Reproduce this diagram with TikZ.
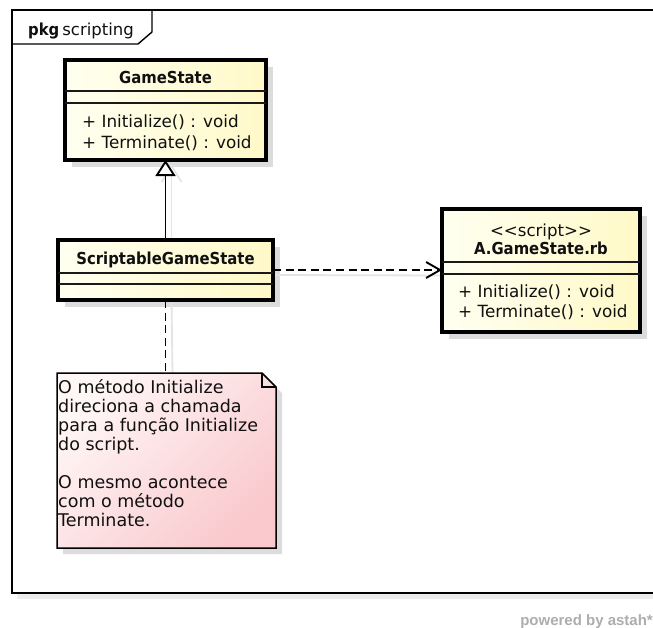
\documentclass[tikz,border=0pt]{standalone}
\usepackage{fontspec}
\setmainfont{DejaVu Sans}
\newfontfamily\namefont{DejaVu Sans}[FakeStretch=0.9]
\newfontfamily\logofont{Liberation Sans}
\usetikzlibrary{arrows.meta,calc}
\pgfdeclarelayer{background}
\pgfsetlayers{background,main}

\definecolor{classleft}{HTML}{FFFFF0}
\definecolor{classright}{HTML}{FFF9C8}
\definecolor{noteleft}{HTML}{FFF6F6}
\definecolor{noteright}{HTML}{F9C9CD}
\definecolor{shadowgray}{HTML}{DCDCDC}
\definecolor{lineshadow}{HTML}{E4E4E4}
\definecolor{frameshadow}{HTML}{EDEDED}
\definecolor{logogray}{HTML}{ADADAD}
\definecolor{ink}{HTML}{101010}

\begin{document}
\begin{tikzpicture}[x=1pt,y=-1pt,
  frame/.style={draw=black, line width=1.4pt},
  classbox/.style={draw=black, line width=3.2pt, left color=classleft, right color=classright,
    inner sep=0pt, outer sep=0pt, anchor=north west},
  compart/.style={draw=black!90, line width=1.4pt},
  boxshadow/.style={fill=shadowgray, draw=none},
  connshadow/.style={draw=lineshadow, line width=1.8pt},
  classname/.style={font=\namefont\bfseries\fontsize{16.5}{20}\selectfont, inner sep=0pt, text=ink, anchor=base},
  stereo/.style={font=\fontsize{16.6}{20}\selectfont, inner sep=0pt, text=ink, anchor=base},
  op/.style={anchor=base west, font=\fontsize{16.8}{20}\selectfont, inner sep=0pt, text=ink},
  notetext/.style={anchor=base west, font=\fontsize{17.5}{20}\selectfont, inner sep=0pt, text=ink},
  generalization/.style={draw=black, line width=1.9pt, -{Triangle[length=16pt,width=20pt,fill=white]}},
  dependency/.style={draw=black, line width=1.9pt, dash pattern=on 8pt off 4.6pt, -{Straight Barb[length=14pt,width=16pt]}},
  anchorline/.style={draw=black, line width=1.9pt, dash pattern=on 8pt off 4.6pt}
]
\useasboundingbox (0,0) rectangle (653,627);

% package frame with its name tab
\fill[frameshadow] (17,593) rectangle (653,599);
\draw[frame] (653,10) -- (12,10) -- (12,593) -- (653,593);
\draw[frame] (12,44) -- (138,44) -- (152,32) -- (152,10);
\node[anchor=base west, inner sep=0pt, font=\fontsize{16.5}{20}\selectfont, text=ink] (pkgname)
  at (28,35) {{\namefont\bfseries pkg}\hspace{3pt}scripting};

% class GameState
\node[classbox, minimum width=201pt, minimum height=100pt] (gs) at (65,60) {};
\draw[compart] (gs.west |- 0,91) -- (gs.east |- 0,91);
\draw[compart] (gs.west |- 0,103) -- (gs.east |- 0,103);
\node[classname] (gsname) at (165.5,83) {GameState};
\node[op] (gsop1) at (82,127) {+ Initialize() : void};
\node[op] (gsop2) at (82,148) {+ Terminate() : void};

% class ScriptableGameState
\node[classbox, minimum width=215pt, minimum height=60pt] (sgs) at (58,240) {};
\draw[compart] (sgs.west |- 0,273) -- (sgs.east |- 0,273);
\draw[compart] (sgs.west |- 0,284) -- (sgs.east |- 0,284);
\node[classname] (sgsname) at (165.5,264) {ScriptableGameState};

% script class A.GameState.rb
\node[classbox, minimum width=198pt, minimum height=123pt] (script) at (442,209) {};
\draw[compart] (script.west |- 0,262) -- (script.east |- 0,262);
\draw[compart] (script.west |- 0,274) -- (script.east |- 0,274);
\node[stereo] (scriptstereo) at (541,236) {<{}<script>{}>};
\node[classname] (scriptname) at (541,254) {A.GameState.rb};
\node[op] (scriptop1) at (458,297) {+ Initialize() : void};
\node[op] (scriptop2) at (458,317) {+ Terminate() : void};

% note
\node[anchor=north west, minimum width=219pt, minimum height=175pt, inner sep=0pt, outer sep=0pt] (note) at (57,373) {};
\node[notetext] (note1) at (58,393) {O método Initialize};
\node[notetext] (note2) at (58,412) {direciona a chamada};
\node[notetext] (note3) at (58,431) {para a função Initialize};
\node[notetext] (note4) at (58,450) {do script.};
\node[notetext] (note5) at (58,488) {O mesmo acontece};
\node[notetext] (note6) at (58,507) {com o método};
\node[notetext] (note7) at (58,526) {Terminate.};

% shadows and note paper behind everything
\begin{pgfonlayer}{background}
  \fill[boxshadow] ($(gs.north west)+(7,7)$) rectangle ($(gs.south east)+(7,7)$);
  \fill[boxshadow] ($(sgs.north west)+(7,7)$) rectangle ($(sgs.south east)+(7,7)$);
  \fill[boxshadow] ($(script.north west)+(7,7)$) rectangle ($(script.south east)+(7,7)$);
  \fill[boxshadow] ($(note.north west)+(6,6)$) -- ($(note.north east)+(-8,6)$) -- ($(note.north east)+(6,20)$)
    -- ($(note.south east)+(6,6)$) -- ($(note.south west)+(6,6)$) -- cycle;
  \draw[connshadow] ($(sgs.north)+(6,0)$) -- ($(gs.south)+(6,16)$);
  \draw[connshadow] ($(gs.south)+(-4,22)$) -- ($(gs.south)+(6,6)$) -- ($(gs.south)+(16,22)$);
  \draw[connshadow] ($(sgs.east)+(0,5)$) -- ($(script.west)+(6,5)$);
  \draw[connshadow] ($(sgs.south)+(6,0)$) -- ($(note.north)+(6,0)$);
  \shade[top color=noteleft, bottom color=noteright, shading angle=45]
    (note.north west) -- ($(note.north east)+(-14,0)$) -- ($(note.north east)+(0,14)$)
    -- (note.south east) -- (note.south west) -- cycle;
\end{pgfonlayer}
\draw[draw=black, line width=1.5pt, line join=miter]
  (note.north west) -- ($(note.north east)+(-14,0)$) -- ($(note.north east)+(0,14)$)
  -- (note.south east) -- (note.south west) -- cycle;
\draw[draw=black, line width=1.3pt]
  ($(note.north east)+(-14,0)$) -- ($(note.north east)+(-14,14)$) -- ($(note.north east)+(0,14)$);

% connectors
\draw[generalization] (sgs.north) -- (gs.south);
\draw[dependency] (sgs.east) -- (sgs.east -| script.west);
\draw[anchorline] (sgs.south) -- (note.north -| sgs.south);

% tool credit
\node[anchor=base east, inner sep=0pt, font=\logofont\bfseries\fontsize{15}{18}\selectfont, text=logogray] (credit)
  at (653,625) {powered by astah*};
\end{tikzpicture}
\end{document}
